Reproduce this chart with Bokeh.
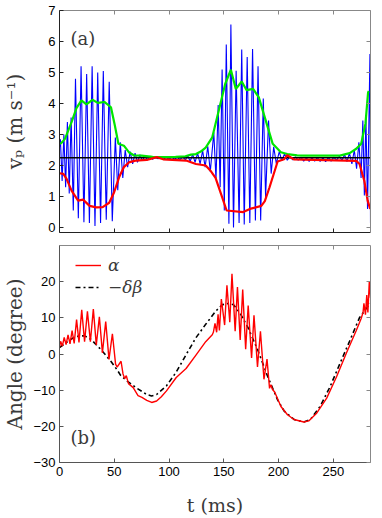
from bokeh.plotting import figure
from bokeh.layouts import column
from bokeh.models import Range1d, FixedTicker, LinearAxis, Label, Legend, LegendItem
from bokeh.embed import file_html
from bokeh.resources import INLINE

T_MAX = 284
V_MEAN = 2.25

# ---- panel (a): blue signal (read as alternating extrema, t in ms, v in m/s)
vp_t = [0.0, 0.8, 2.4, 4.0, 5.6, 7.2, 8.9, 10.6, 12.6, 14.6, 17.2, 19.7, 22.3, 24.8, 27.3,
        29.8, 32.4, 34.9, 37.5, 40.0, 42.7, 45.4, 48.2, 51.0, 53.2, 55.5, 57.8, 60.0, 62.2,
        64.5, 66.8, 69.0, 71.2, 73.5, 75.8, 78.0, 80.2, 82.5, 85.0, 87.5, 90.0, 92.5, 95.0,
        97.5, 100.0, 102.5, 105.0, 107.5, 110.0, 112.5, 115.0, 117.0, 119.3, 121.6, 123.8,
        126.1, 128.4, 130.7, 133.0, 135.4, 137.7, 140.9, 142.9, 144.9, 146.7, 148.5, 150.5,
        152.3, 154.7, 156.5, 158.9, 161.3, 164.0, 166.4, 168.7, 171.4, 173.8, 176.3, 178.9,
        181.3, 183.7, 186.1, 188.2, 190.9, 193.3, 195.6, 198.0, 200.7, 203.0, 205.5, 208.0,
        210.5, 213.0, 215.5, 218.0, 220.5, 223.0, 225.5, 228.0, 230.5, 233.0, 235.5, 238.0,
        240.5, 243.0, 245.5, 248.0, 250.5, 253.0, 255.5, 258.0, 260.3, 262.5, 264.8, 267.0,
        269.2, 271.3, 273.4, 275.4, 277.0, 278.4, 279.8, 281.3, 283.5, 284.0]
vp_v = [2.6, 2.85, 1.5, 3.0, 1.3, 3.4, 1.1, 3.55, 0.55, 4.8, 0.3, 5.2, 0.17, 4.95, 0.15,
        5.2, 0.05, 5.0, 0.15, 5.05, 0.25, 4.7, 0.2, 2.9, 1.2, 2.75, 1.6, 2.5, 1.95,
        2.45, 2.05, 2.4, 2.1, 2.35, 2.15, 2.32, 2.18, 2.3, 2.2, 2.28, 2.22, 2.27, 2.2,
        2.27, 2.2, 2.28, 2.2, 2.27, 2.19, 2.28, 2.18, 2.33, 2.13, 2.36, 2.1,
        2.4, 2.05, 2.48, 1.95, 2.62, 1.8, 3.07, 1.55, 3.95, 1.3, 5.1, 0.55,
        5.9, 0.12, 6.55, 0.0, 5.06, 0.15, 5.74, 0.1, 5.5, 0.15, 5.76, 0.23,
        5.2, 0.23, 4.16, 0.98, 3.45, 1.74, 2.6, 2.06, 2.45, 2.15, 2.38, 2.17,
        2.3, 2.18, 2.28, 2.17, 2.27, 2.14, 2.25, 2.13, 2.25, 2.14, 2.26, 2.13,
        2.25, 2.12, 2.26, 2.14, 2.27, 2.17, 2.3, 2.17, 2.35, 2.13, 2.4, 2.05,
        2.5, 1.9, 2.75, 1.6, 3.45, 1.03, 3.6, 0.6, 5.6, 0.15, 0.5]

# upper envelope (green)
up_t = [0, 1.5, 5, 11, 15.5, 20, 24.6, 30, 35, 41, 47, 50.5, 53.8, 58.8, 63.3, 67.8, 75, 85,
        95, 106, 115, 120, 124.6, 129, 133.5, 139.5, 145.4, 151.3, 156.5, 161, 166.4, 170.9,
        176.8, 182, 187.4, 194.7, 202.2, 208, 217, 223, 256, 265, 271, 275.5, 279.4, 281.8, 282.5]
up_v = [2.7, 2.72, 2.86, 3.4, 3.85, 4.1, 3.97, 4.12, 4.02, 4.05, 3.88, 3.3, 2.7, 2.64, 2.43,
        2.33, 2.32, 2.28, 2.27, 2.28, 2.3, 2.35, 2.37, 2.45, 2.58, 2.91, 3.77, 4.63, 5.09,
        4.47, 4.71, 4.43, 4.47, 4.2, 3.56, 2.7, 2.43, 2.37, 2.33, 2.32, 2.32, 2.4, 2.54,
        2.7, 3.35, 4.36, 4.4]

# lower envelope (red)
lo_t = [0, 3.5, 6.5, 11, 17, 21.5, 27.5, 33.5, 39.4, 45.4, 49.9, 54.4, 58.8, 63.3, 69.3,
        79.7, 88.7, 94.7, 115.6, 124.6, 133.5, 137.7, 142.5, 148.5, 152.6, 167.8, 173.8,
        184.3, 187.5, 191.8, 199.2, 205, 208, 214, 271, 274, 278.4, 281.4, 283.7]
lo_v = [1.75, 1.73, 1.57, 1.19, 0.87, 0.9, 0.7, 0.65, 0.66, 0.8, 1.14, 1.62, 1.95, 2.1, 2.16,
        2.18, 2.27, 2.2, 2.16, 2.05, 2.0, 1.84, 1.6, 0.98, 0.55, 0.5, 0.6,
        0.7, 0.85, 1.3, 2.13, 2.2, 2.33, 2.2, 2.15, 2.05, 1.5, 0.87, 0.6]

# ---- panel (b): angles (degree)
al_t = [0, 1.0, 2.6, 4.3, 6.0, 7.8, 9.6, 11.5, 13.4, 15.6, 17.8, 20.3, 22.9, 25.5, 28.2, 30.9,
        33.6, 36.4, 39.2, 42.2, 45.2, 48.3, 51.2, 52.6, 56.2, 58.0, 59.5, 61.0, 63.0, 67.3,
        71.7, 75.3, 79.7, 84.2, 88.7, 93.0, 97.7, 106.6, 115.6, 124.6, 133.5, 139.5, 140.5,
        142.0, 143.5, 144.8, 146.0, 147.8, 150.8, 152.9, 155.5, 157.5, 160.4, 162.5, 165.0,
        167.3, 170.0, 172.3, 175.4, 177.6, 180.8, 183.5, 186.7, 189.5, 191.8, 193.0, 194.5,
        196.5, 202.2, 208.2, 214.2, 223.1, 227.6, 235.0, 244.0, 253.0, 262.0, 271.0, 275.5,
        277.2, 278.0, 279.4, 280.6, 281.6, 282.9, 284.0]
al_v = [1.8, 3.5, 2.2, 4.6, 2.6, 5.3, 2.8, 6.5, 2.9, 9.5, 3.2, 12.2, 3.4, 11.8, 3.4, 12.4,
        2.5, 10.3, 0.3, 9.0, -1.5, 5.6, -2.8, -3.6, -2.0, -5.5, -6.8, -6.0, -8.2, -9.3,
        -11.5, -12.0, -12.8, -13.4, -13.0, -11.8, -10.2, -6.5, -4.0, -0.3, 3.4, 5.3, 6.0,
        8.5, 6.0, 11.0, 6.5, 15.2, 8.0, 19.0, 8.8, 22.2, 6.3, 18.5, 3.9,
        17.8, 1.3, 13.4, -1.1, 10.7, -3.6, 6.3, -7.0, -1.4, -9.5, -8.5, -9.8,
        -10.5, -14.5, -16.8, -18.1, -18.8, -18.5, -16.3, -12.2, -6.3, 0.3, 6.5, 9.8,
        11.5, 14.0, 10.9, 16.3, 11.5, 20.0, 15.5]

db_t = [0, 8.1, 14.3, 20, 23, 29, 37.9, 46.9, 52.9, 55.8, 61.8, 70.8, 79.7, 84, 88.7, 97.7,
        106.6, 115.6, 124.6, 133.5, 142.5, 148.5, 154.4, 158.9, 164.9, 172.3, 181.3, 190.2,
        199.2, 205.2, 214.2, 223.1, 229.1, 238, 247, 256, 265, 273.9, 281.4, 284]
db_v = [1.8, 3.6, 4.8, 5.0, 5.0, 4.0, 1.2, -2.0, -4.5, -5.9, -7.5, -9.5, -11.2, -11.6, -11.2,
        -8.8, -5.0, -0.2, 4.5, 8.2, 11.8, 13.6, 14.0, 13.6, 11.3, 7.2, 0.9, -6.3,
        -12.7, -15.8, -18.1, -18.8, -18.1, -14.5, -9.1, -2.7, 3.6, 10.0, 13.1, 14.0]

x_ticks = [0, 50, 100, 150, 200, 250]
ya_ticks = [0, 1, 2, 3, 4, 5, 6, 7]
yb_ticks = [-30, -20, -10, 0, 10, 20]

TICK_FONT = "Liberation Sans"
SERIF = "DejaVu Serif"
LABEL_COLOR = "#3a3a3a"


def hide_labels(ax):
    ax.major_label_text_font_size = "0px"
    ax.major_label_text_color = None
    ax.major_label_standoff = 0


def style_axis(ax, col, ticks):
    ax.ticker = FixedTicker(ticks=ticks)
    ax.axis_line_color = col
    ax.major_tick_line_color = col
    ax.major_tick_in = 4
    ax.major_tick_out = 0
    ax.minor_tick_line_color = None
    ax.major_label_text_font = TICK_FONT
    ax.major_label_text_font_size = "13px"
    ax.major_label_text_color = "black"
    ax.major_label_standoff = 4


def add_box(p, xt, yt, light):
    for loc, tks in (("above", xt), ("right", yt)):
        ax = LinearAxis()
        style_axis(ax, light, tks)
        hide_labels(ax)
        p.add_layout(ax, loc)
    p.grid.visible = False
    p.outline_line_color = None


# ---------- panel (a)
p1 = figure(width=372, height=240, output_backend="svg", toolbar_location=None,
            x_range=Range1d(0, T_MAX), y_range=Range1d(-0.16, 7),
            min_border_left=53, min_border_right=2, min_border_top=10, min_border_bottom=8)
xa1 = p1.below[0]
ya1 = p1.left[0]
style_axis(xa1, "#222222", x_ticks)
hide_labels(xa1)
style_axis(ya1, "#222222", ya_ticks)
ya1.axis_label = "vₚ (m s⁻¹)"
ya1.axis_label_text_font = SERIF
ya1.axis_label_text_font_style = "normal"
ya1.axis_label_text_font_size = "20px"
ya1.axis_label_text_color = LABEL_COLOR
ya1.axis_label_standoff = 18
add_box(p1, x_ticks, ya_ticks, "#888888")

p1.line(vp_t, vp_v, line_color="#0000ff", line_width=1.1)
p1.line([0, T_MAX], [V_MEAN, V_MEAN], line_color="black", line_width=1.6)
p1.line(up_t, up_v, line_color="#00e600", line_width=2.2)
p1.line(lo_t, lo_v, line_color="#ff0000", line_width=2.2)
p1.add_layout(Label(x=10, y=6.1, text="(a)", text_font=SERIF, text_font_size="18px",
                    text_color=LABEL_COLOR, text_baseline="middle"))

# ---------- panel (b)
p2 = figure(width=372, height=278, output_backend="svg", toolbar_location=None,
            x_range=Range1d(0, T_MAX), y_range=Range1d(-30, 30),
            min_border_left=53, min_border_right=2, min_border_top=5, min_border_bottom=54)
xa2 = p2.below[0]
ya2 = p2.left[0]
style_axis(xa2, "#555555", x_ticks)
style_axis(ya2, "#555555", yb_ticks)
ya2.axis_label = "Angle (degree)"
ya2.axis_label_text_font = SERIF
ya2.axis_label_text_font_style = "normal"
ya2.axis_label_text_font_size = "20px"
ya2.axis_label_text_color = LABEL_COLOR
ya2.axis_label_standoff = 3
xa2.axis_label = "t (ms)"
xa2.axis_label_text_font = SERIF
xa2.axis_label_text_font_style = "normal"
xa2.axis_label_text_font_size = "19px"
xa2.axis_label_text_color = LABEL_COLOR
xa2.axis_label_standoff = 15
add_box(p2, x_ticks, yb_ticks, "#888888")

r_db = p2.line(db_t, db_v, line_color="black", line_width=1.6, line_dash="5 3 2 3")
r_al = p2.line(al_t, al_v, line_color="#ff0000", line_width=1.4)
p2.add_layout(Label(x=10, y=-23, text="(b)", text_font=SERIF, text_font_size="18px",
                    text_color=LABEL_COLOR, text_baseline="middle"))

legend = Legend(items=[LegendItem(label="α", renderers=[r_al]),
                       LegendItem(label="−δβ", renderers=[r_db])],
                location=(16, 164), border_line_color=None, background_fill_alpha=0,
                glyph_width=26, glyph_height=22, label_height=22, spacing=0,
                padding=0, margin=0, label_standoff=7,
                label_text_font=SERIF, label_text_font_size="17px",
                label_text_font_style="italic", label_text_color=LABEL_COLOR)
p2.add_layout(legend)

layout = column(p1, p2, spacing=0)
open("out.html", "w").write(file_html(layout, INLINE))
